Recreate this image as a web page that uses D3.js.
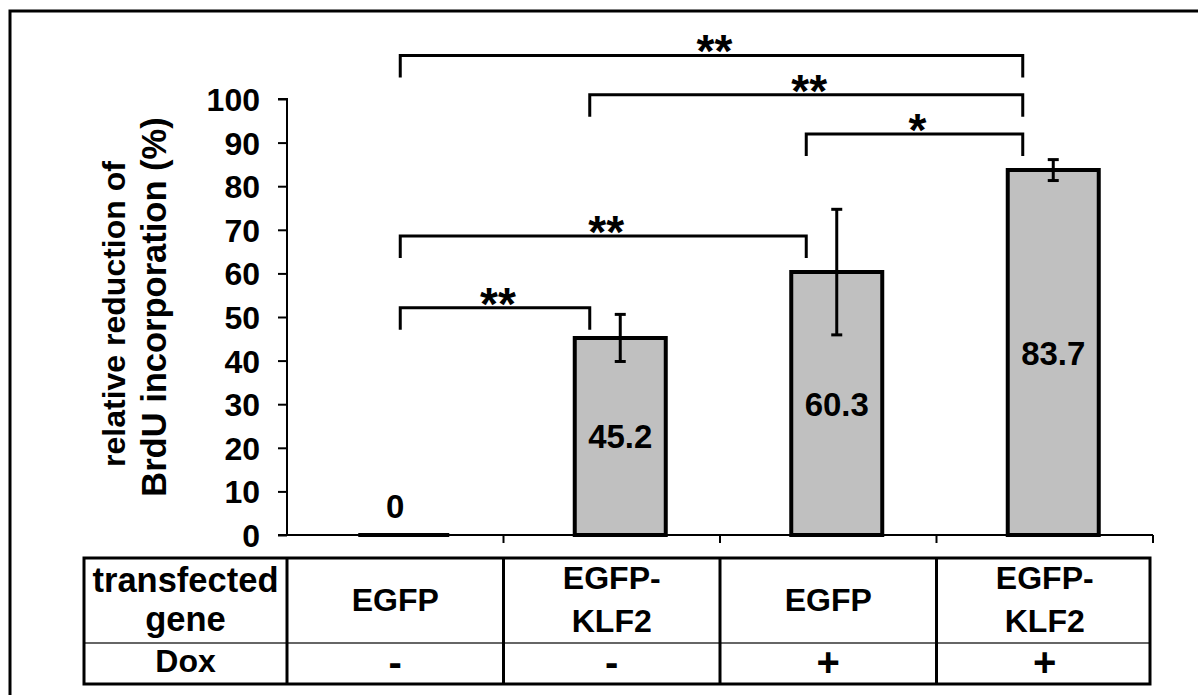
<!DOCTYPE html>
<html>
<head>
<meta charset="utf-8">
<script src="https://cdn.jsdelivr.net/npm/d3@7"></script>
<style>
  body { margin: 0; background: #fff; }
  svg text { font-family: "Liberation Sans", Arial, sans-serif; font-weight: bold; fill: #000; }
</style>
</head>
<body>
<div id="chart"></div>
<script>
// values
const categories = ['c1', 'c2', 'c3', 'c4'];
const values = [0, 45.2, 60.3, 83.7];
const errors = [0, 5.4, 14.4, 2.4];
const yTicks = [0, 10, 20, 30, 40, 50, 60, 70, 80, 90, 100];
const geneLabels = [['EGFP'], ['EGFP-', 'KLF2'], ['EGFP'], ['EGFP-', 'KLF2']];
const doxLabels = ['-', '-', '+', '+'];
const rowHeaders = [['transfected', 'gene'], ['Dox']];
const yLabelLines = ['relative reduction of', 'BrdU incorporation (%)'];
const brackets = [
  {from: 0, to: 3, level: 110, label: '**'},
  {from: 1, to: 3, level: 101, label: '**'},
  {from: 2, to: 3, level: 92, label: '*'},
  {from: 0, to: 2, level: 68.6, label: '**'},
  {from: 0, to: 1, level: 52.1, label: '**'}
];

const W = 1198, H = 695;
const svg = d3.select('#chart').append('svg')
    .attr('width', W)
    .attr('height', H);

// outer frame (top and left edges only visible)
svg.append('path')
    .attr('d', `M10,${H} L10,11 L${W},11`)
    .attr('fill', 'none')
    .attr('stroke', '#000')
    .attr('stroke-width', 3);

const x = d3.scaleBand()
    .domain(categories)
    .range([287, 1153]);

const y = d3.scaleLinear()
    .domain([0, 100])
    .range([535, 99]);

const barW = 91;
const barShift = 8.5;
const barCenter = (d) => x(d) + x.bandwidth() / 2 + barShift;

// y axis
const yAxis = svg.append('g')
    .attr('transform', `translate(${x.range()[0]},0)`)
    .call(d3.axisLeft(y).tickValues(yTicks).tickSize(9).tickPadding(18).tickFormat(d3.format('d')));
yAxis.select('.domain').attr('stroke-width', 2).attr('d', `M-9,${y(100)}H0V${y(0)}`);
yAxis.selectAll('.tick line').attr('stroke-width', 2);
yAxis.selectAll('.tick text')
    .style('font-size', '32px')
    .attr('dy', '0.36em');

// x axis
const xAxis = svg.append('g')
    .attr('transform', `translate(0,${y(0)})`);
xAxis.append('line')
    .attr('x1', x.range()[0] - 9)
    .attr('x2', x.range()[1])
    .attr('stroke', '#000')
    .attr('stroke-width', 2);
xAxis.selectAll('.xtick')
    .data(categories.slice(1).concat(['end']))
    .enter().append('line')
    .attr('x1', (d, i) => x.range()[0] + (i + 1) * x.step())
    .attr('x2', (d, i) => x.range()[0] + (i + 1) * x.step())
    .attr('y1', 0)
    .attr('y2', 8)
    .attr('stroke', '#000')
    .attr('stroke-width', 2);

// bars (drawn as paths so a zero value still shows as a thick line)
svg.append('g')
  .selectAll('path')
    .data(categories)
  .enter().append('path')
    .attr('d', (d, i) => {
      const x0 = barCenter(d) - barW / 2;
      const top = y(values[i]);
      return `M${x0},${y(0)}V${top}H${x0 + barW}V${y(0)}Z`;
    })
    .attr('fill', '#c0c0c0')
    .attr('stroke', '#000')
    .attr('stroke-width', 4);

// error bars
const eb = svg.append('g')
  .selectAll('g')
    .data(categories.filter((d, i) => errors[i] > 0))
  .enter().append('g');
const val = (d) => values[categories.indexOf(d)];
const err = (d) => errors[categories.indexOf(d)];
eb.append('line')
    .attr('x1', (d) => barCenter(d))
    .attr('x2', (d) => barCenter(d))
    .attr('y1', (d) => y(val(d) + err(d)))
    .attr('y2', (d) => y(val(d) - err(d)))
    .attr('stroke', '#000')
    .attr('stroke-width', 3);
[1, -1].forEach((s) => {
  eb.append('line')
      .attr('x1', (d) => barCenter(d) - 5.5)
      .attr('x2', (d) => barCenter(d) + 5.5)
      .attr('y1', (d) => y(val(d) + s * err(d)))
      .attr('y2', (d) => y(val(d) + s * err(d)))
      .attr('stroke', '#000')
      .attr('stroke-width', 3);
});

// value labels
svg.append('g')
  .selectAll('text')
    .data(categories)
  .enter().append('text')
    .attr('x', (d, i) => values[i] === 0 ? x(d) + x.bandwidth() / 2 : barCenter(d))
    .attr('y', (d, i) => values[i] === 0 ? y(0) - 17 : (y(0) + y(values[i])) / 2 + 12)
    .attr('text-anchor', 'middle')
    .style('font-size', '33px')
    .text((d, i) => values[i]);

// significance brackets
const anchor = (i) => x(categories[i]) + x.bandwidth() / 2 + (i === 0 ? 5 : -22);
const legLen = 22;
const br = svg.append('g')
  .selectAll('g')
    .data(brackets)
  .enter().append('g');
br.append('path')
    .attr('d', (d) => `M${anchor(d.from)},${y(d.level) + legLen}V${y(d.level)}H${anchor(d.to)}V${y(d.level) + legLen}`)
    .attr('fill', 'none')
    .attr('stroke', '#000')
    .attr('stroke-width', 3);
br.append('text')
    .attr('x', (d) => (anchor(d.from) + anchor(d.to)) / 2 + 3)
    .attr('y', (d) => y(d.level) + 12)
    .attr('text-anchor', 'middle')
    .style('font-size', '46px')
    .text((d) => d.label);

// y axis title
svg.append('g')
  .selectAll('text')
    .data(yLabelLines)
  .enter().append('text')
    .attr('transform', (d, i) => `translate(${125 + i * 41},${314 - i * 7}) rotate(-90)`)
    .attr('text-anchor', 'middle')
    .style('font-size', (d, i) => i === 0 ? '32px' : '34.5px')
    .text((d) => d);

// table under the axis
const tTop = 558, tMid = 643, tBot = 684, tLeft = 84, tRight = 1150;
const colEdges = [tLeft].concat(categories.map((d) => x(d))).concat([tRight]);
const table = svg.append('g');
table.append('line')
    .attr('x1', tLeft).attr('x2', tRight)
    .attr('y1', tMid).attr('y2', tMid)
    .attr('stroke', '#333')
    .attr('stroke-width', 1.5);
table.selectAll('.vline')
    .data(colEdges.slice(1, -1))
  .enter().append('line')
    .attr('x1', (d) => d).attr('x2', (d) => d)
    .attr('y1', tTop).attr('y2', tBot)
    .attr('stroke', '#000')
    .attr('stroke-width', 3);
table.append('rect')
    .attr('x', tLeft).attr('y', tTop)
    .attr('width', tRight - tLeft).attr('height', tBot - tTop)
    .attr('fill', 'none')
    .attr('stroke', '#000')
    .attr('stroke-width', 3);

const cellText = (cx, lines, baselines, size) => {
  lines.forEach((t, k) => {
    table.append('text')
        .attr('x', cx)
        .attr('y', baselines[k])
        .attr('text-anchor', 'middle')
        .style('font-size', size || '32px')
        .text(t);
  });
};
const headCx = (tLeft + colEdges[1]) / 2;
cellText(headCx, rowHeaders[0], [592, 631], '34.5px');
cellText(headCx, rowHeaders[1], [672]);
categories.forEach((d, i) => {
  const cx = x(d) + x.bandwidth() / 2;
  const lines = geneLabels[i];
  cellText(cx, lines, lines.length === 1 ? [611] : [589, 632]);
  cellText(cx, [doxLabels[i]], [676], '40px');
});
</script>
</body>
</html>
